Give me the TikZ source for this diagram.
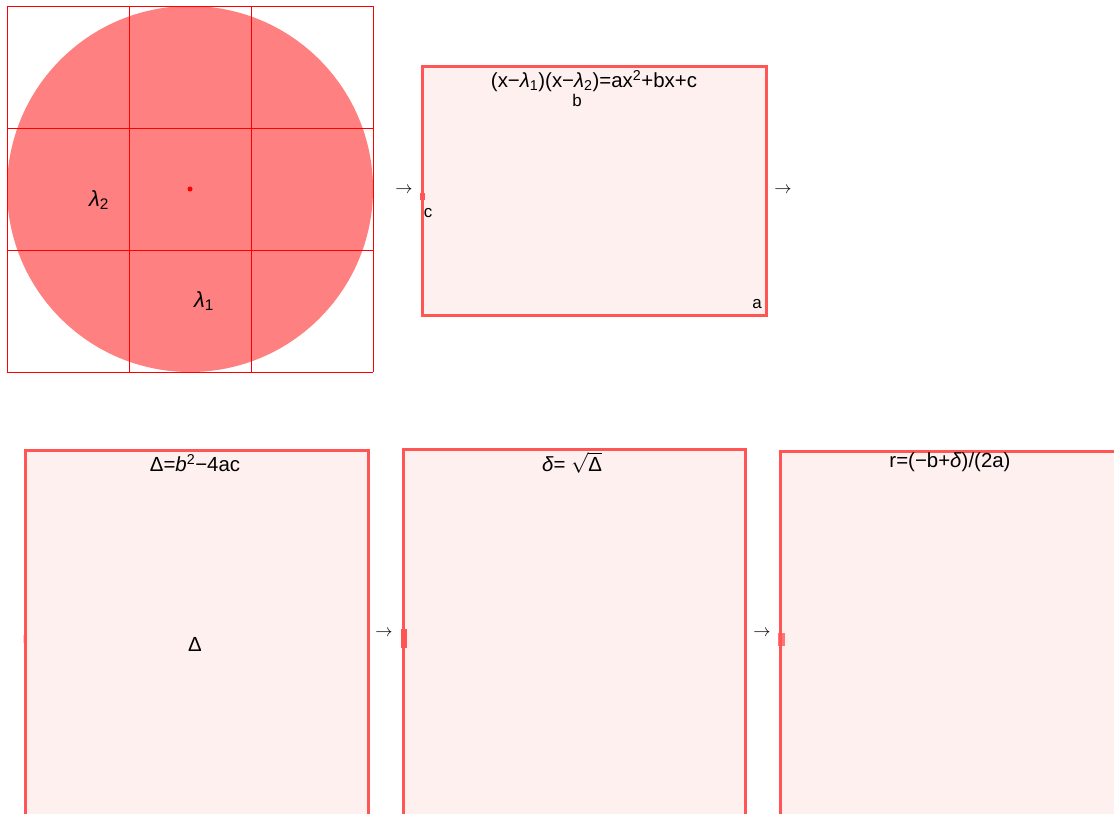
\documentclass[tikz,border=0pt]{standalone}
\usepackage{fontspec}
\setmainfont{Liberation Sans}
\usetikzlibrary{positioning}
\definecolor{boxred}{RGB}{255,85,85}
\definecolor{boxfill}{RGB}{255,240,240}
\definecolor{discred}{RGB}{255,128,128}
\newcommand{\lam}[1]{\textit{λ}\textsubscript{#1}}
\tikzset{
  stagebox/.style={draw=boxred, fill=boxfill, line width=3bp, inner sep=0pt,
    outer sep=0pt, anchor=north west},
  lbl/.style={font=\fontsize{20.5}{24}\selectfont, inner sep=0pt},
  rootlbl/.style={font=\fontsize{22}{26}\selectfont, inner sep=0pt},
  small/.style={font=\fontsize{17}{20}\selectfont, inner sep=0pt},
  flow/.style={font=\fontsize{16}{19}\selectfont, inner sep=0pt},
  port/.style={fill=boxred, inner sep=0pt, outer sep=0pt}
}

\begin{document}
\begin{tikzpicture}[x=1bp, y=-1bp]
  \useasboundingbox (0,0) rectangle (1114,814);
  \clip (0,0) rectangle (1114,814);
  % --- Root disc on 3x3 grid ---
  \fill[discred] (190,189) circle[radius=183bp];
  \foreach \k in {0,...,3} {
    \draw[red, line width=1bp] ({7.5+122*\k},6) -- ({7.5+122*\k},372);
    \draw[red, line width=1bp] (7,{6.5+122*\k}) -- (373,{6.5+122*\k});
  }
  \fill[red] (190,189) circle[radius=2.5bp];
  \node[rootlbl] (lamtwo) at (99,200) {\lam{2}};
  \node[rootlbl] (lamone) at (204,301) {\lam{1}};
  % --- Quadratic stage ---
  \node[flow] (arrquad) at (404,190) {$\rightarrow$};
  \node[stagebox, minimum width=344bp, minimum height=248bp] (quad) at (422,67) {};
  \node[lbl, anchor=north] (quadtitle) at ([yshift=-3bp]quad.north)
    {(x−\lam{1})(x−\lam{2})=ax\textsuperscript{2}+bx+c};
  \node[small] (coefb) at (577,100) {b};
  \node[small] (coefc) at (428,213) {c};
  \node[small] (coefa) at (757,304) {a};
  \node[port, minimum width=5bp, minimum height=7bp] (quadin) at (422,196) {};
  \node[flow] (arrout) at (783,190) {$\rightarrow$};
  % --- Discriminant stage ---
  \node[stagebox, minimum width=343bp, minimum height=400bp] (disc) at (25,450) {};
  \node[lbl] (disctitle) at (195,463) {Δ=\textit{b}\textsuperscript{2}−4ac};
  \node[lbl] (discval) at (195,644) {Δ};
  \node[port, opacity=0.3, minimum width=4bp, minimum height=8bp] (discin) at (25,639) {};
  % --- Square root stage ---
  \node[flow] (arrsqrt) at (384,633) {$\rightarrow$};
  \node[stagebox, minimum width=342bp, minimum height=400bp] (sqrtd) at (403,449) {};
  \node[lbl] (sqrttitle) at (572,463) {\textit{δ}= $\sqrt{\mbox{Δ}}$};
  \node[port, minimum width=6bp, minimum height=19bp] (sqrtin) at (404,638) {};
  % --- Root stage ---
  \node[flow] (arrroot) at (762,633) {$\rightarrow$};
  \node[stagebox, minimum width=400bp, minimum height=400bp] (root) at (780,451) {};
  \node[lbl] (roottitle) at (950,462) {r=(−b+\textit{δ})/(2a)};
  \node[port, opacity=0.8, minimum width=7bp, minimum height=13bp] (rootin) at (781,639) {};
\end{tikzpicture}
\end{document}
